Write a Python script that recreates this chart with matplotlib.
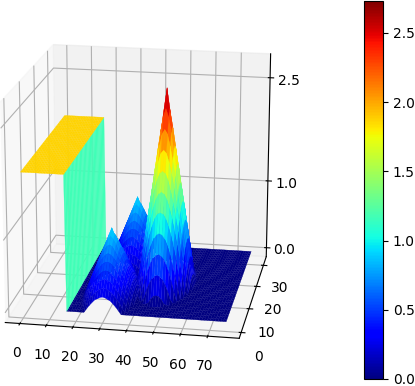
import matplotlib
matplotlib.use('Agg')
import matplotlib.pyplot as plt
import numpy as np

# grid
x_values = list(range(0, 77))
y_values = list(range(0, 33))
wall_x = 16.5

plateau_z = 1.87
wall_z = 1.17

# peak centres (x, y)
tall_peak = (48, 15)
small_peaks = [(30, 8), (33, 24)]

# heights by distance from a peak centre: rows dy 0..10, columns dx 0..10
tall_z = [
    [2.73, 2.47, 2.21, 1.95, 1.69, 1.43, 1.17, .91, .65, .39, .13],
    [2.47, 2.36, 2.15, 1.91, 1.66, 1.40, 1.15, .89, .63, .37, .12],
    [2.21, 2.15, 1.99, 1.79, 1.57, 1.33, 1.09, .84, .59, .33, .08],
    [1.95, 1.91, 1.79, 1.63, 1.43, 1.21, .99, .75, .51, .26, .02],
    [1.69, 1.66, 1.57, 1.43, 1.26, 1.07, .86, .63, .41, .17, 0],
    [1.43, 1.40, 1.33, 1.21, 1.07, .89, .70, .49, .28, .05, 0],
    [1.17, 1.15, 1.09, .99, .86, .70, .52, .33, .13, 0, 0],
    [.91, .89, .84, .75, .63, .49, .33, .16, 0, 0, 0],
    [.65, .63, .59, .51, .41, .28, .13, 0, 0, 0, 0],
    [.39, .37, .33, .26, .17, .05, 0, 0, 0, 0, 0],
    [.13, .12, .08, .02, 0, 0, 0, 0, 0, 0, 0],
]
small_z = [
    [.95, .86, .77, .68, .59, .50, .41, .32, .23, .14, .05],
    [.86, .82, .75, .66, .58, .49, .40, .31, .22, .13, .04],
    [.77, .75, .69, .62, .55, .46, .38, .29, .20, .12, .03],
    [.68, .66, .62, .57, .50, .42, .34, .26, .18, .09, .01],
    [.59, .58, .55, .50, .44, .37, .30, .22, .14, .06, 0],
    [.50, .49, .46, .42, .37, .31, .24, .17, .10, .02, 0],
    [.41, .40, .38, .34, .30, .24, .18, .12, .05, 0, 0],
    [.32, .31, .29, .26, .22, .17, .12, .05, 0, 0, 0],
    [.23, .22, .20, .18, .14, .10, .05, 0, 0, 0, 0],
    [.14, .13, .12, .09, .06, .02, 0, 0, 0, 0, 0],
    [.05, .04, .03, .01, 0, 0, 0, 0, 0, 0, 0],
]

x_ticks = [0, 10, 20, 30, 40, 50, 60, 70]
y_ticks = [0, 10, 20, 30]
z_ticks = [0.0, 1.0, 2.5]
cbar_ticks = [0.0, 0.5, 1.0, 1.5, 2.0, 2.5]
z_max = 2.73


def add_peak(z, centre, table):
    # copy the measured quadrant round the centre, keep the higher surface
    table = np.array(table)
    size = table.shape[0] - 1
    full = np.block([[table[:0:-1, :0:-1], table[:0:-1, :]],
                     [table[:, :0:-1], table]])
    cx, cy = centre
    for j in range(full.shape[0]):
        for i in range(full.shape[1]):
            yi = cy + j - size
            xi = cx + i - size
            if 0 <= yi < z.shape[0] and 0 <= xi < z.shape[1]:
                z[yi, xi] = max(z[yi, xi], full[j, i])


z_grid = np.zeros((len(y_values), len(x_values)))
z_grid[:, :17] = plateau_z
add_peak(z_grid, tall_peak, tall_z)
for c in small_peaks:
    add_peak(z_grid, c, small_z)

# extra column so the wall stands nearly upright right after x = 16
x_all = np.array(x_values[:17] + [wall_x] + x_values[17:], dtype=float)
z_all = np.insert(z_grid, 17, 0.0, axis=1)
X, Y = np.meshgrid(x_all, y_values)

cmap = plt.get_cmap('jet')
norm = plt.Normalize(0, z_max)
cell_z = (z_all[:-1, :-1] + z_all[1:, :-1] + z_all[:-1, 1:] + z_all[1:, 1:]) / 4
cell_z[:, 16] = wall_z
colors = cmap(norm(cell_z))

fig = plt.figure(figsize=(4.15, 3.86), dpi=100)
ax = fig.add_axes([-0.095, 0.02, 0.85, 0.98], projection='3d')
ax.plot_surface(X, Y, z_all, facecolors=colors, linewidth=0.2, antialiased=True,
                shade=False, rcount=len(y_values), ccount=len(x_all))
ax.set_box_aspect((4, 4, 3.88), zoom=1.08)
ax.view_init(elev=18, azim=-80)
ax.set_xticks(x_ticks)
ax.set_yticks(y_ticks)
ax.set_zticks(z_ticks)
ax.set_zlim(-0.135, 2.84)
ax.tick_params(axis='x', pad=2)
ax.tick_params(axis='y', pad=2)
ax.tick_params(axis='z', pad=2)

cax = fig.add_axes([364 / 415, 7 / 386, 19 / 415, 378 / 386])
cb = fig.colorbar(plt.cm.ScalarMappable(norm=norm, cmap=cmap), cax=cax)
cb.set_ticks(cbar_ticks)

fig.savefig('out.png', dpi=100)
